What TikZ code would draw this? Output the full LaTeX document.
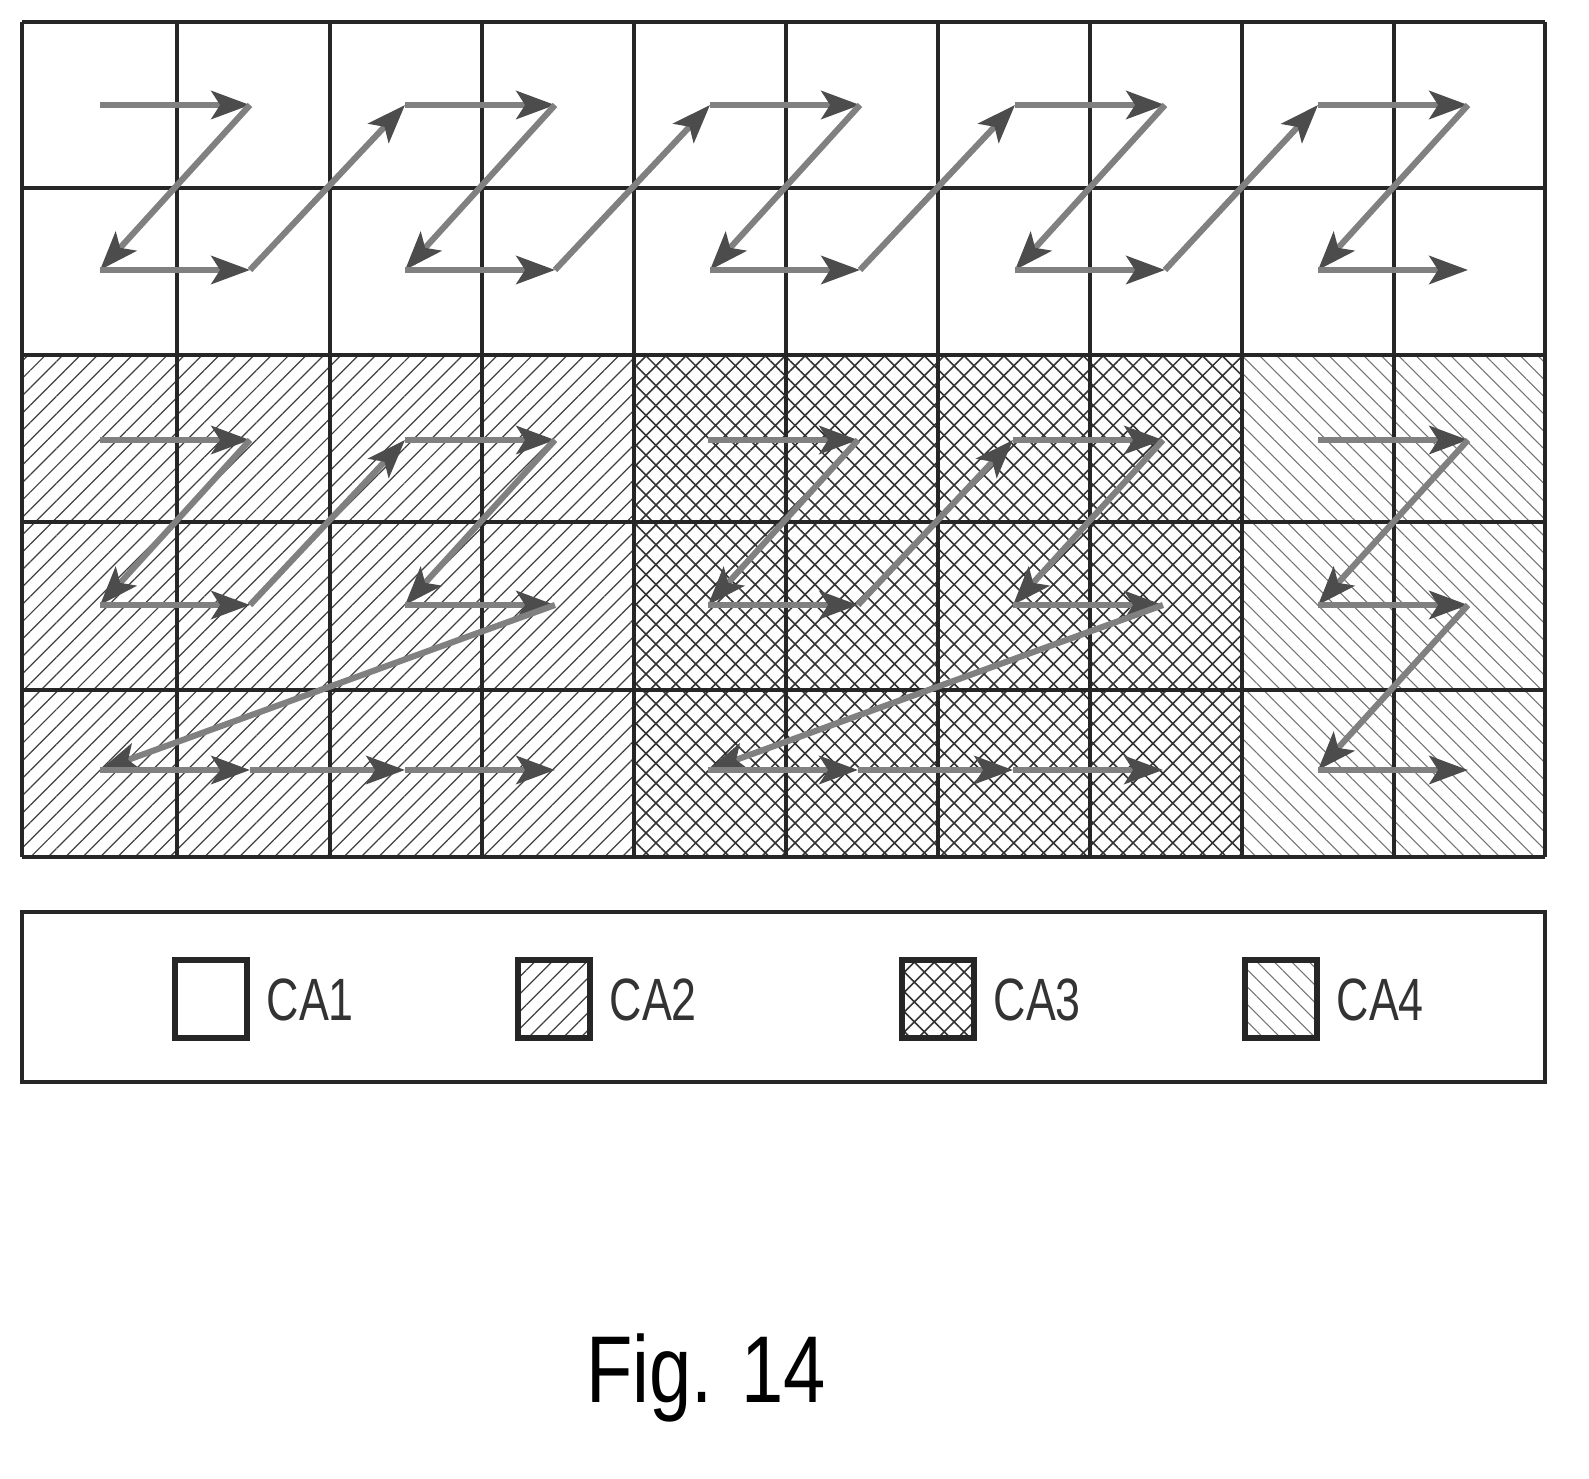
\documentclass[tikz,border=0pt]{standalone}
\usepackage{fontspec}
\setmainfont{Liberation Sans}
\usetikzlibrary{patterns.meta,arrows.meta}
\begin{document}
\begin{tikzpicture}[x=0.02cm,y=-0.02cm,
  grid/.style={line width=2pt,draw=black!85},
  ca2/.style={pattern={Lines[angle=45,distance=7pt,line width=0.7pt]},pattern color=black!75},
  ca3/.style={pattern={Hatch[angle=45,distance=8pt,line width=0.9pt]},pattern color=black!80},
  ca4/.style={pattern={Lines[angle=-45,distance=7pt,line width=0.6pt]},pattern color=black!55},
  ar/.style={line width=3.5pt,draw=black!50,-{Stealth[length=22pt,width=16pt,inset=5pt,color=black!70]}},
  lab/.style={font=\fontsize{34}{34}\selectfont,xscale=0.75,anchor=west,text=black!80}]
\useasboundingbox (0,0) rectangle (1589,1479);
% fills
\fill[ca2] (22,355) rectangle (634,857);
\fill[ca3] (634,355) rectangle (1242,857);
\fill[ca4] (1242,355) rectangle (1545,857);
% grid
\foreach \x in {22,177,330,482,634,786,938,1090,1242,1394,1545}
  \draw[grid] (\x,22) -- (\x,857);
\foreach \y in {22,188,355,522,690,857}
  \draw[grid] (22,\y) -- (1545,\y);
% top arrows
\foreach \k/\xl/\xr in {0/100/250,1/405/555,2/710/860,3/1015/1165,4/1318/1468}{
  \coordinate (t\k a) at (\xl,105); \coordinate (t\k b) at (\xr,105);
  \coordinate (t\k c) at (\xl,270); \coordinate (t\k d) at (\xr,270);
  \draw[ar] (t\k a) -- (t\k b);
  \draw[ar] (t\k b) -- (t\k c);
  \draw[ar] (t\k c) -- (t\k d);
}
\foreach \k/\n in {0/1,1/2,2/3,3/4}
  \draw[ar] (t\k d) -- (t\n a);
% lower blocks CA2 and CA3
\foreach \b/\o in {p/0,q/608}{
  \coordinate (\b1) at (100+\o,440); \coordinate (\b2) at (250+\o,440);
  \coordinate (\b3) at (100+\o,605); \coordinate (\b4) at (250+\o,605);
  \coordinate (\b5) at (405+\o,440); \coordinate (\b6) at (555+\o,440);
  \coordinate (\b7) at (405+\o,605); \coordinate (\b8) at (555+\o,605);
  \coordinate (\b9) at (100+\o,770); \coordinate (\b10) at (250+\o,770);
  \coordinate (\b11) at (405+\o,770); \coordinate (\b12) at (555+\o,770);
  \draw[ar] (\b1) -- (\b2); \draw[ar] (\b2) -- (\b3); \draw[ar] (\b3) -- (\b4);
  \draw[ar] (\b4) -- (\b5); \draw[ar] (\b5) -- (\b6); \draw[ar] (\b6) -- (\b7);
  \draw[ar] (\b7) -- (\b8); \draw[ar] (\b8) -- (\b9); \draw[ar] (\b9) -- (\b10);
  \draw[ar] (\b10) -- (\b11); \draw[ar] (\b11) -- (\b12);
}
% CA4 block
\coordinate (r1) at (1318,440); \coordinate (r2) at (1468,440);
\coordinate (r3) at (1318,605); \coordinate (r4) at (1468,605);
\coordinate (r5) at (1318,770); \coordinate (r6) at (1468,770);
\draw[ar] (r1) -- (r2); \draw[ar] (r2) -- (r3); \draw[ar] (r3) -- (r4);
\draw[ar] (r4) -- (r5); \draw[ar] (r5) -- (r6);
% legend
\draw[grid] (22,912) rectangle (1545,1082);
\draw[grid,line width=3pt] (175,960) rectangle (247,1038);
\node[lab] (l1) at (262,1000) {CA1};
\filldraw[ca2,grid,line width=3pt] (518,960) rectangle (590,1038);
\node[lab] (l2) at (605,1000) {CA2};
\filldraw[ca3,grid,line width=3pt] (902,960) rectangle (974,1038);
\node[lab] (l3) at (989,1000) {CA3};
\filldraw[ca4,grid,line width=3pt] (1245,960) rectangle (1317,1038);
\node[lab] (l4) at (1332,1000) {CA4};
\node[font=\fontsize{54}{54}\selectfont,xscale=0.8] (fig) at (706,1378) {Fig. 14};
\end{tikzpicture}
\end{document}
